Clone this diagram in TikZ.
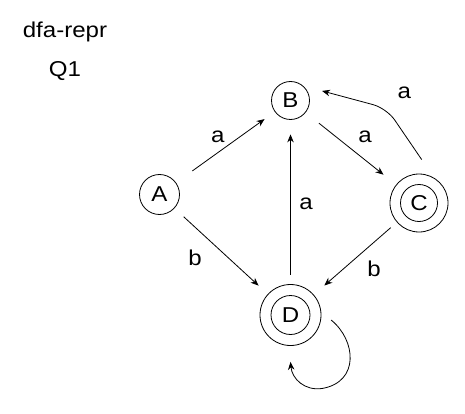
\documentclass[tikz,border=0pt]{standalone}
\usepackage{fontspec}
\setmainfont{Liberation Sans}[FakeStretch=1.12]
\usetikzlibrary{arrows.meta}
\begin{document}
\begin{tikzpicture}[x=1pt,y=-1pt,
  every node/.style={font=\fontsize{21.5}{24}\selectfont, inner sep=0pt},
  state/.style={circle, draw, line width=0.8pt, minimum size=#1},
  state/.default=39pt,
  arr/.style={-{Stealth[length=8pt,width=6.5pt]}, line width=0.8pt},
  lbl/.style={}]
\useasboundingbox (0,0) rectangle (465,414);
% title
\node (title) at (65,32) {dfa-repr};
\node (q1) at (65,71) {Q1};
% states
\node[state=40pt] (A) at (159.5,194.5) {A};
\node[state=38pt] (B) at (290.5,100.5) {B};
\node[state=58pt] (C) at (419,203) {C};
\draw[line width=0.8pt] (C) circle (18.5);
\node[state=61pt] (D) at (290.5,315) {D};
\draw[line width=0.8pt] (D) circle (19.5);
% edges
\draw[arr, shorten <=20pt, shorten >=12.5pt] (A) -- (B);
\draw[arr, shorten <=17pt, shorten >=16pt] (B) -- (C);
\draw[arr, shorten <=9.5pt, shorten >=14.5pt] (D) -- (B);
\draw[arr, shorten <=12.5pt, shorten >=12.5pt] (A) -- (D);
\draw[arr, shorten <=8pt, shorten >=14pt] (C) -- (D);
\coordinate (cb) at (386.7,108.3);
\draw[arr, rounded corners=14pt] ([xshift=2.7pt,yshift=14pt]C.north) -- (cb) -- ([xshift=13pt,yshift=3.9pt]B.17);
\draw[arr] ([xshift=9.7pt,yshift=-5pt]D.east)
  .. controls (356,340) and (360,382) .. (322,388.5)
  .. controls (305,391) and (292,379) .. ([yshift=-16pt]D.south);
% labels
\node[lbl] (lab) at (217.7,137) {a};
\node[lbl] (lbc) at (365,137) {a};
\node[lbl] (lcb) at (404.3,92.5) {a};
\node[lbl] (ldb) at (306,204) {a};
\node[lbl] (lad) at (195,257.5) {b};
\node[lbl] (lcd) at (374,269) {b};
\end{tikzpicture}
\end{document}
